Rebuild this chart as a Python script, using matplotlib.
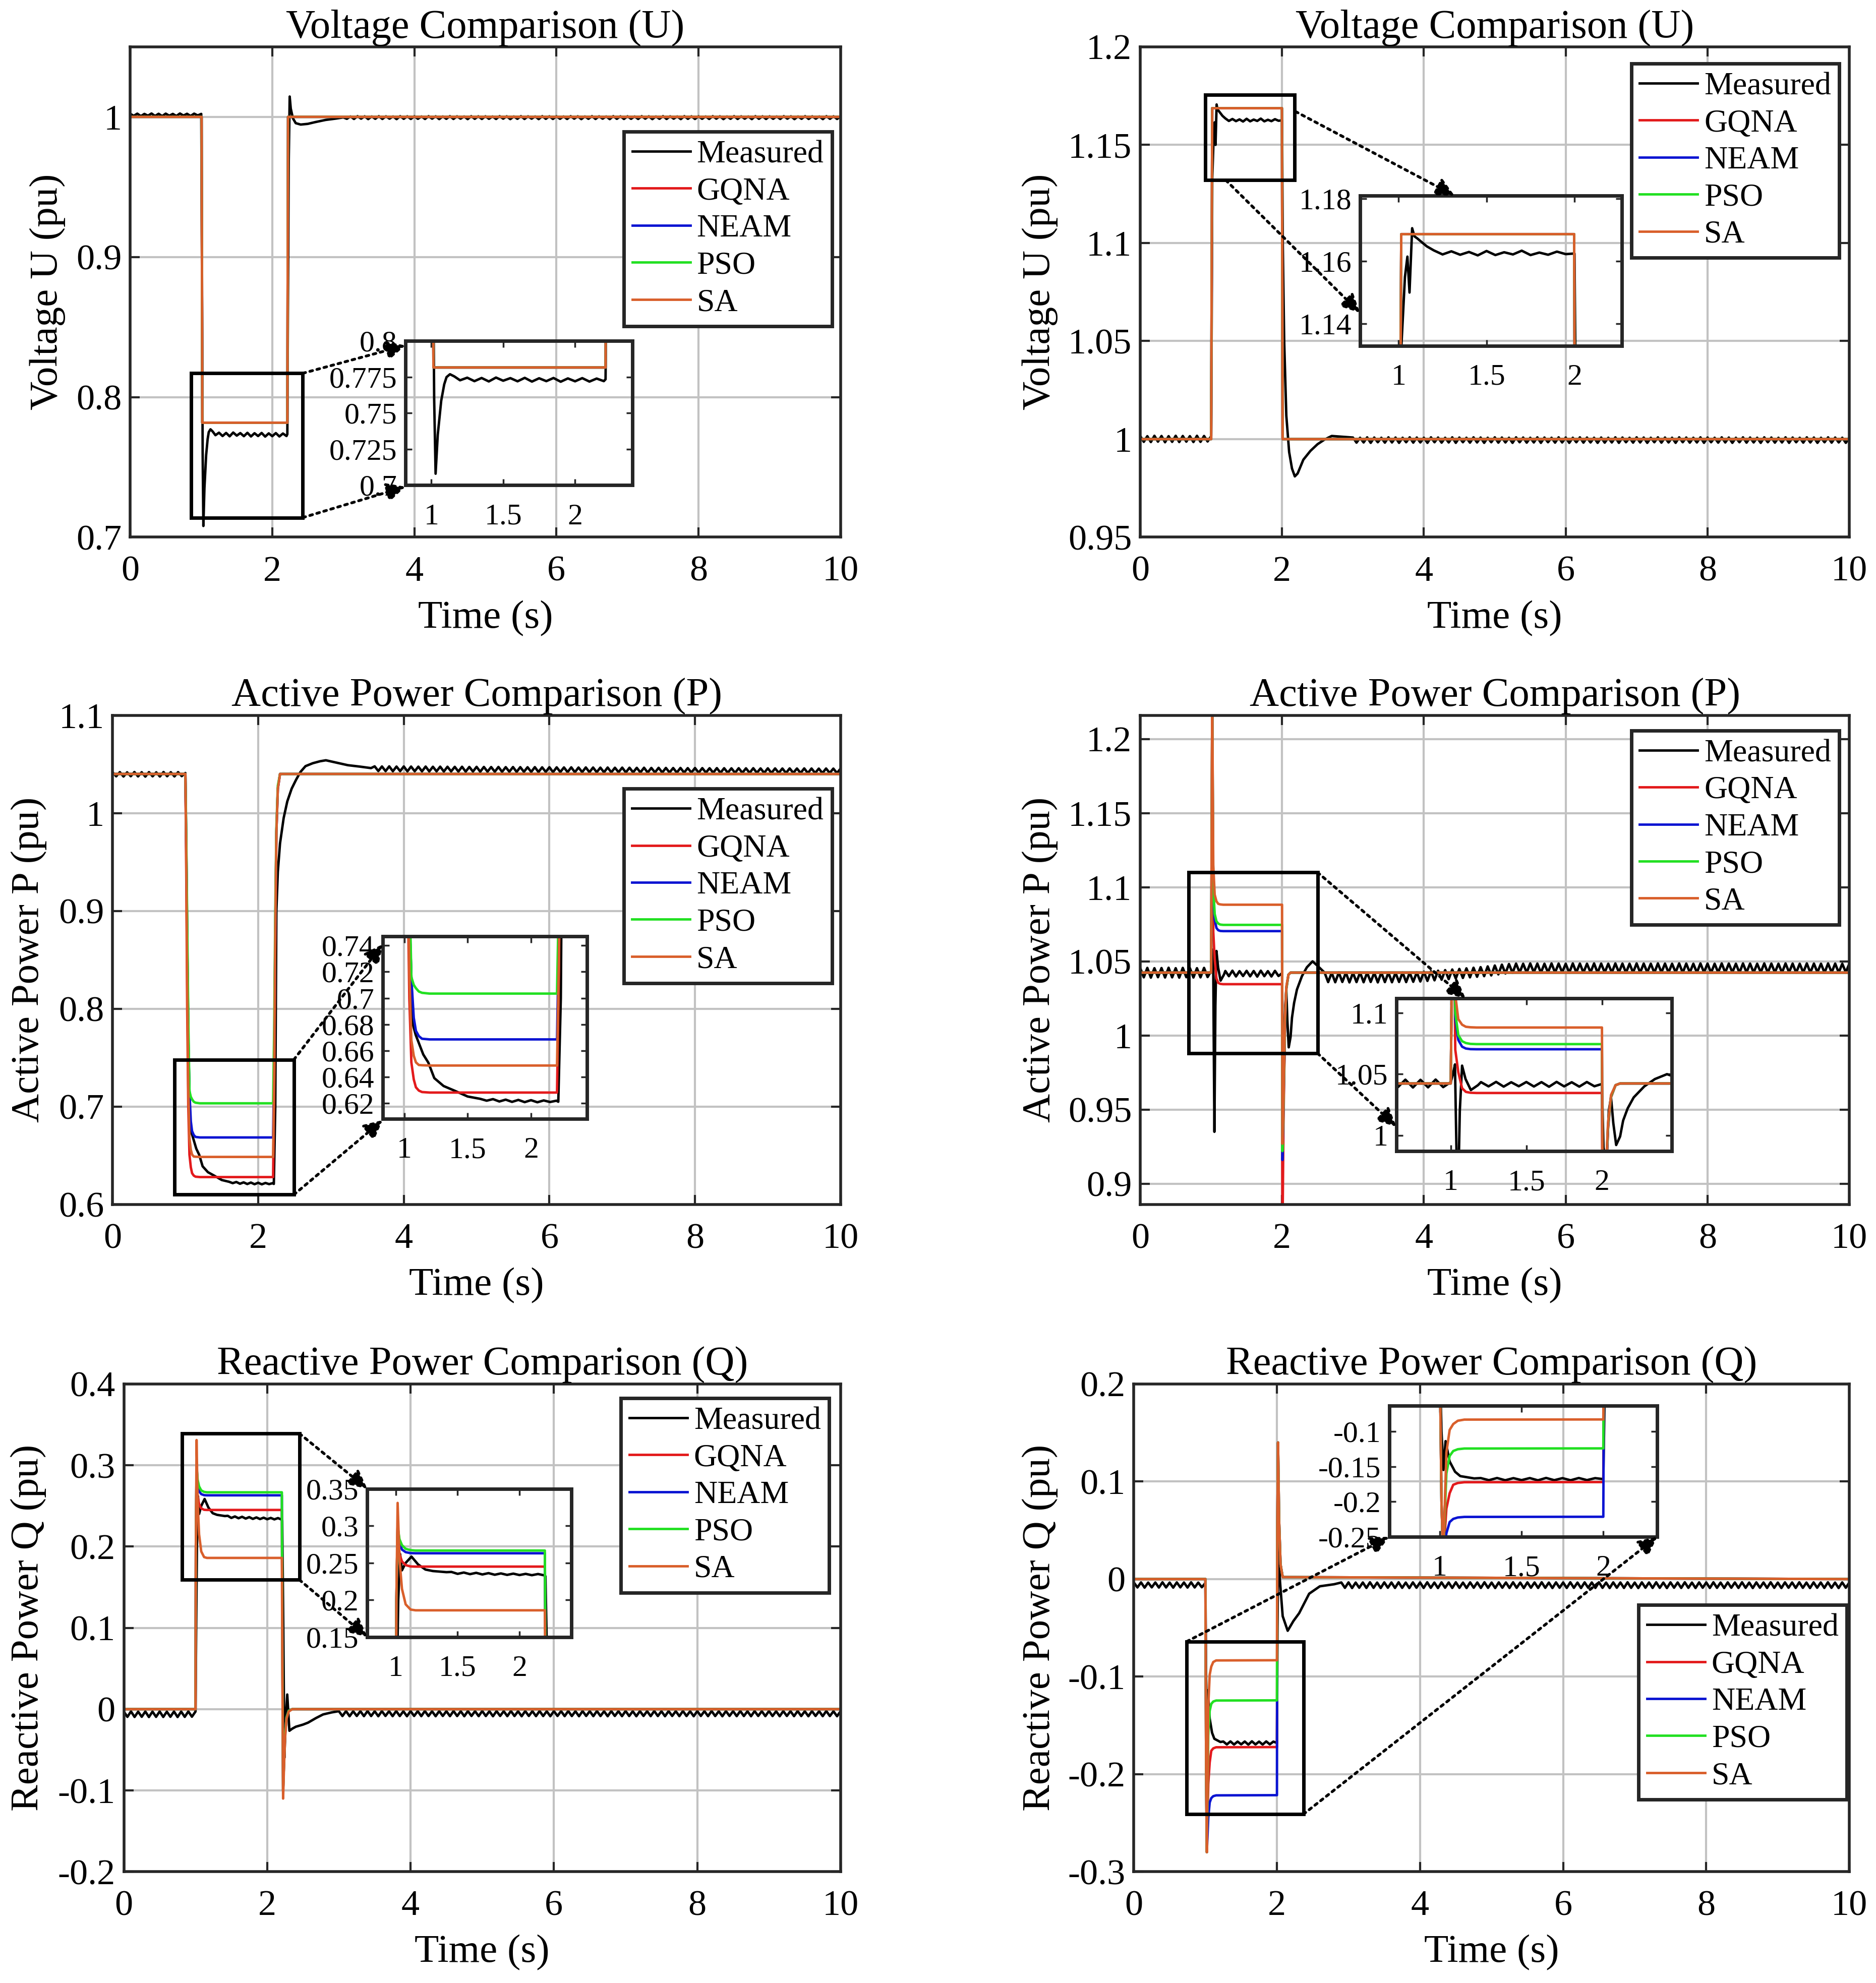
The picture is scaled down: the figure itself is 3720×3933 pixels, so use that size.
import numpy as np
import matplotlib
matplotlib.use('Agg')
import matplotlib.pyplot as plt
from matplotlib.patches import Rectangle, ConnectionPatch
from matplotlib.ticker import FuncFormatter

plt.rcParams['font.family'] = ['Liberation Serif', 'DejaVu Serif']
plt.rcParams['axes.unicode_minus'] = False

names = ['Measured', 'GQNA', 'NEAM', 'PSO', 'SA']
colors = ['#000000', '#e31a1c', '#0a14d2', '#22e022', '#d95f2b']

# ---------------- U, left case (sag) ----------------
u1_pre = [1.0022, 1.0007, 1.0023, 1.0005, 1.0021, 1.0008, 1.0024, 1.0006, 1.0022, 1.0005,
          1.0023, 1.0008, 1.0021, 1.0006, 1.0024, 1.0009, 1.0022, 1.0006, 1.0023, 1.0010]
u1_tr1_t = [1.0, 1.01, 1.02, 1.03, 1.045, 1.069, 1.09, 1.106, 1.13, 1.16, 1.2]
u1_tr1_v = [1.0021, 0.90, 0.76, 0.708, 0.735, 0.7586, 0.770, 0.775, 0.777, 0.7755, 0.7728]
u1_mid = [0.7746, 0.7722, 0.7744, 0.7720, 0.7747, 0.7725, 0.7743, 0.7721, 0.7745, 0.7719,
          0.7742, 0.7722, 0.7744, 0.7718, 0.7741, 0.7721, 0.7743, 0.7719, 0.7740, 0.7722]
u1_tr2_t = [2.212, 2.22, 2.232, 2.245, 2.26, 2.29, 2.33, 2.4, 2.5, 2.6, 2.75, 2.9]
u1_tr2_v = [0.7735, 0.86, 0.97, 1.0145, 1.006, 0.999, 0.9955, 0.9945, 0.9950, 0.9962, 0.9978, 0.9988]
u1_post = [0.9996, 0.9986, 1.0003, 0.9985, 1.0005, 0.9987, 1.0004, 0.9984, 1.0003, 0.9986,
           1.0005, 0.9985, 1.0004, 0.9987, 1.0003, 0.9984, 1.0005, 0.9986, 1.0004, 0.9985,
           1.0004, 0.9986, 1.0003, 0.9985, 1.0005, 0.9987, 1.0004, 0.9984, 1.0003, 0.9986,
           1.0005, 0.9985, 1.0004, 0.9987, 1.0003, 0.9984, 1.0005, 0.9986, 1.0004, 0.9985,
           1.0004, 0.9986, 1.0003, 0.9985, 1.0005, 0.9987, 1.0004, 0.9984, 1.0003, 0.9986,
           1.0005, 0.9985, 1.0004, 0.9987, 1.0003, 0.9984, 1.0005, 0.9986, 1.0004, 0.9985,
           1.0004, 0.9986, 1.0003, 0.9985, 1.0005, 0.9987, 1.0004, 0.9984, 1.0003, 0.9986,
           1.0005, 0.9985, 1.0004, 0.9987, 1.0003, 0.9984, 1.0005, 0.9986, 1.0004, 0.9985,
           1.0004, 0.9986, 1.0003, 0.9985, 1.0005, 0.9987, 1.0004, 0.9984, 1.0003, 0.9986,
           1.0005, 0.9985, 1.0004, 0.9987, 1.0003, 0.9984, 1.0005, 0.9986, 1.0004, 0.9985,
           1.0004, 0.9986, 1.0003, 0.9985, 1.0005, 0.9987, 1.0004, 0.9984, 1.0003, 0.9986,
           1.0005, 0.9985, 1.0004, 0.9987, 1.0003, 0.9984, 1.0005, 0.9986, 1.0004, 0.9985,
           1.0004, 0.9986, 1.0003, 0.9985, 1.0005, 0.9987, 1.0004, 0.9984, 1.0003, 0.9986,
           1.0005, 0.9985, 1.0004, 0.9987, 1.0003, 0.9984, 1.0005, 0.9986, 1.0004, 0.9985, 1.0004]
u1_model_t = [0, 1.005, 1.015, 2.212, 2.222, 10]
u1_model_v = [1.0, 1.0, 0.7817, 0.7817, 1.0, 1.0]

# ---------------- U, right case (swell) ----------------
u2_pre = [1.0016, 0.9986, 1.0015, 0.9985, 1.0017, 0.9987, 1.0016, 0.9984, 1.0015, 0.9986,
          1.0017, 0.9985, 1.0016, 0.9987, 1.0015, 0.9985, 1.0017, 0.9986, 1.0016, 0.9988]
u2_tr1_t = [1.0, 1.008, 1.016, 1.036, 1.05, 1.062, 1.077, 1.09, 1.107, 1.13, 1.16, 1.2]
u2_tr1_v = [1.0015, 1.06, 1.133, 1.155, 1.1615, 1.150, 1.1706, 1.168, 1.1673, 1.1662, 1.1648, 1.1635]
u2_mid = [1.1622, 1.1632, 1.1621, 1.1630, 1.1619, 1.1633, 1.1620, 1.1629, 1.1622, 1.1634,
          1.1620, 1.1628, 1.1621, 1.1631, 1.1623]
u2_tr2_t = [2.0, 2.01, 2.03, 2.06, 2.1, 2.14, 2.18, 2.22, 2.3, 2.4, 2.5, 2.6, 2.7, 2.85]
u2_tr2_v = [1.1625, 1.10, 1.05, 1.012, 0.9934, 0.985, 0.981, 0.9825, 0.9895, 0.994, 0.9974, 0.9998, 1.0016, 1.0012]
u2_post = [1.0008, 0.9982, 1.0007, 0.9983, 1.0009, 0.9981, 1.0008, 0.9984, 1.0007, 0.9982,
           1.0009, 0.9983, 1.0008, 0.9981, 1.0007, 0.9984, 1.0009, 0.9982, 1.0008, 0.9983,
           1.0007, 0.9981, 1.0009, 0.9984, 1.0008, 0.9982, 1.0007, 0.9983, 1.0009, 0.9981,
           1.0008, 0.9984, 1.0007, 0.9982, 1.0009, 0.9983, 1.0008, 0.9981, 1.0007, 0.9984,
           1.0009, 0.9982, 1.0008, 0.9983, 1.0007, 0.9981, 1.0009, 0.9984, 1.0008, 0.9982,
           1.0007, 0.9983, 1.0009, 0.9981, 1.0008, 0.9984, 1.0007, 0.9982, 1.0009, 0.9983,
           1.0008, 0.9981, 1.0007, 0.9984, 1.0009, 0.9982, 1.0008, 0.9983, 1.0007, 0.9981,
           1.0008, 0.9982, 1.0007, 0.9983, 1.0009, 0.9981, 1.0008, 0.9984, 1.0007, 0.9982,
           1.0009, 0.9983, 1.0008, 0.9981, 1.0007, 0.9984, 1.0009, 0.9982, 1.0008, 0.9983,
           1.0007, 0.9981, 1.0009, 0.9984, 1.0008, 0.9982, 1.0007, 0.9983, 1.0009, 0.9981,
           1.0008, 0.9984, 1.0007, 0.9982, 1.0009, 0.9983, 1.0008, 0.9981, 1.0007, 0.9984,
           1.0009, 0.9982, 1.0008, 0.9983, 1.0007, 0.9981, 1.0009, 0.9984, 1.0008, 0.9982,
           1.0007, 0.9983, 1.0009, 0.9981, 1.0008, 0.9984, 1.0007, 0.9982, 1.0009, 0.9983,
           1.0008, 0.9981, 1.0007, 0.9984, 1.0009, 0.9982, 1.0008, 0.9983, 1.0007, 0.9981, 1.0008]
u2_model_t = [0, 1.0, 1.015, 1.998, 2.008, 10]
u2_model_v = [1.0, 1.0, 1.1687, 1.1687, 1.0, 1.0]

# ---------------- P, left case ----------------
p1_pre = [1.0418, 1.0376, 1.0419, 1.0374, 1.0417, 1.0377, 1.0420, 1.0375, 1.0418, 1.0373,
          1.0419, 1.0376, 1.0417, 1.0374, 1.0420, 1.0377, 1.0418, 1.0375, 1.0419, 1.0378]
p1_tr1_t = [1.0, 1.015, 1.03, 1.045, 1.068, 1.09, 1.116, 1.15, 1.19, 1.237, 1.31, 1.395, 1.5, 1.6]
p1_tr1_v = [1.041, 0.95, 0.84, 0.75, 0.68, 0.672, 0.6655, 0.657, 0.6508, 0.639, 0.633, 0.6295, 0.625, 0.6232]
p1_mid = [0.6218, 0.6230, 0.6212, 0.6226, 0.6209, 0.6224, 0.6207, 0.6222, 0.6206, 0.6220, 0.6208, 0.6218]
p1_tr2_t = [2.215, 2.235, 2.25, 2.27, 2.3, 2.35, 2.4, 2.46, 2.52, 2.58, 2.65, 2.75, 2.85, 2.93, 3.05, 3.23, 3.4, 3.55]
p1_tr2_v = [0.621, 0.70, 0.90, 0.94, 0.969, 0.995, 1.012, 1.025, 1.034, 1.042, 1.048, 1.051, 1.053, 1.054, 1.052, 1.049, 1.0475, 1.046]
p1_post = [1.0478, 1.0430, 1.0477, 1.0429, 1.0478, 1.0428, 1.0476, 1.0429, 1.0477, 1.0427,
           1.0476, 1.0428, 1.0475, 1.0427, 1.0476, 1.0426, 1.0474, 1.0427, 1.0475, 1.0425,
           1.0474, 1.0426, 1.0473, 1.0425, 1.0474, 1.0424, 1.0472, 1.0425, 1.0473, 1.0423,
           1.0472, 1.0424, 1.0471, 1.0423, 1.0472, 1.0422, 1.0470, 1.0423, 1.0471, 1.0421,
           1.0470, 1.0422, 1.0469, 1.0421, 1.0470, 1.0420, 1.0468, 1.0421, 1.0469, 1.0419,
           1.0468, 1.0420, 1.0467, 1.0419, 1.0468, 1.0418, 1.0466, 1.0419, 1.0467, 1.0418,
           1.0466, 1.0418, 1.0465, 1.0417, 1.0466, 1.0417, 1.0464, 1.0418, 1.0465, 1.0416,
           1.0464, 1.0417, 1.0463, 1.0416, 1.0464, 1.0415, 1.0462, 1.0416, 1.0463, 1.0415,
           1.0462, 1.0415, 1.0461, 1.0414, 1.0462, 1.0414, 1.0460, 1.0415, 1.0461, 1.0413,
           1.0460, 1.0414, 1.0459, 1.0413, 1.0460, 1.0412, 1.0459, 1.0413, 1.0458, 1.0412,
           1.0459, 1.0412, 1.0458, 1.0411, 1.0459, 1.0412, 1.0457, 1.0411, 1.0458, 1.0410,
           1.0457, 1.0411, 1.0456, 1.0410, 1.0457, 1.0411, 1.0456, 1.0410, 1.0457, 1.0409,
           1.0456, 1.0410, 1.0455, 1.0409, 1.0456, 1.0410, 1.0455, 1.0409, 1.0456]
p1_model_t = [0, 1.0, 1.01, 1.025, 1.04, 1.056, 1.075, 1.092, 1.115, 1.14, 1.2,
              2.205, 2.22, 2.235, 2.25, 2.27, 2.3, 10]
p1_gqna = [1.04, 1.04, 0.96, 0.80, 0.70, 0.651, 0.638, 0.632, 0.6295, 0.6284, 0.628,
           0.628, 0.72, 0.87, 0.98, 1.025, 1.04, 1.04]
p1_neam = [1.04, 1.04, 0.98, 0.87, 0.77, 0.715, 0.685, 0.675, 0.671, 0.669, 0.6685,
           0.6685, 0.75, 0.88, 0.98, 1.025, 1.04, 1.04]
p1_pso = [1.04, 1.04, 0.99, 0.89, 0.79, 0.716, 0.710, 0.7075, 0.705, 0.704, 0.7034,
          0.7034, 0.78, 0.90, 0.985, 1.028, 1.04, 1.04]
p1_sa = [1.04, 1.04, 0.97, 0.83, 0.72, 0.668, 0.656, 0.651, 0.649, 0.6488, 0.6486,
         0.6486, 0.73, 0.88, 0.98, 1.025, 1.04, 1.04]

# ---------------- P, right case ----------------
p2_pre = [1.0455, 1.0392, 1.0456, 1.0390, 1.0454, 1.0393, 1.0455, 1.0391, 1.0457, 1.0392,
          1.0454, 1.0390, 1.0456, 1.0393, 1.0455, 1.0391, 1.0454, 1.0392, 1.0456, 1.0394]
p2_tr1_t = [1.0, 1.015, 1.028, 1.036, 1.046, 1.06, 1.075, 1.098, 1.133, 1.18]
p2_tr1_v = [1.0435, 1.05, 1.058, 1.0, 0.935, 1.02, 1.057, 1.046, 1.037, 1.041]
p2_mid = [1.0435, 1.0400, 1.0437, 1.0398, 1.0434, 1.0401, 1.0436, 1.0399, 1.0435, 1.0397,
          1.0437, 1.0400, 1.0434, 1.0398, 1.0436, 1.0401]
p2_tr2_t = [2.0, 2.01, 2.03, 2.045, 2.06, 2.075, 2.094, 2.12, 2.14, 2.17, 2.21, 2.28, 2.35, 2.43, 2.5]
p2_tr2_v = [1.042, 0.99, 0.975, 1.02, 1.031, 1.01, 0.992, 0.999, 1.012, 1.022, 1.031, 1.040, 1.046, 1.050, 1.047]
p2_post = [1.0424, 1.0360, 1.0423, 1.0359, 1.0425, 1.0361, 1.0424, 1.0358, 1.0423, 1.0360,
           1.0425, 1.0359, 1.0424, 1.0361, 1.0423, 1.0358, 1.0425, 1.0360, 1.0424, 1.0359,
           1.0423, 1.0361, 1.0425, 1.0360, 1.0424, 1.0362, 1.0426, 1.0364, 1.0430, 1.0368,
           1.0433, 1.0372, 1.0437, 1.0376, 1.0441, 1.0380, 1.0445, 1.0384, 1.0449, 1.0388,
           1.0453, 1.0392, 1.0457, 1.0396, 1.0461, 1.0400, 1.0466, 1.0405, 1.0472, 1.0412,
           1.0478, 1.0418, 1.0482, 1.0422, 1.0485, 1.0425, 1.0484, 1.0424, 1.0486, 1.0426,
           1.0485, 1.0423, 1.0484, 1.0425, 1.0486, 1.0424, 1.0485, 1.0426, 1.0484, 1.0423,
           1.0486, 1.0425, 1.0485, 1.0424, 1.0484, 1.0426, 1.0486, 1.0423, 1.0485, 1.0425,
           1.0484, 1.0424, 1.0486, 1.0426, 1.0485, 1.0423, 1.0484, 1.0425, 1.0486, 1.0424,
           1.0485, 1.0426, 1.0484, 1.0423, 1.0486, 1.0425, 1.0485, 1.0424, 1.0484, 1.0426,
           1.0486, 1.0423, 1.0485, 1.0425, 1.0484, 1.0424, 1.0486, 1.0426, 1.0485, 1.0423,
           1.0484, 1.0425, 1.0486, 1.0424, 1.0485, 1.0426, 1.0484, 1.0423, 1.0486, 1.0425,
           1.0485, 1.0424, 1.0484, 1.0426, 1.0486, 1.0423, 1.0485, 1.0425, 1.0484, 1.0424,
           1.0486, 1.0426, 1.0485, 1.0423, 1.0484, 1.0425, 1.0486, 1.0424, 1.0485, 1.0426,
           1.0484, 1.0423, 1.0486, 1.0425, 1.0485, 1.0424, 1.0484, 1.0426, 1.0485]
p2_model_t = [0, 1.0, 1.015, 1.03, 1.05, 1.075, 1.1, 1.13, 1.17, 2.0, 2.005, 2.02, 2.04, 2.06, 2.09, 2.12, 10]
p2_gqna = [1.0424, 1.0424, 1.23, 1.07, 1.0516, 1.0385, 1.0355, 1.0348, 1.0346, 1.0346,
           0.86, 0.94, 1.005, 1.031, 1.041, 1.0424, 1.0424]
p2_neam = [1.0424, 1.0424, 1.23, 1.095, 1.078, 1.0725, 1.071, 1.0705, 1.0704, 1.0704,
           0.916, 0.95, 1.007, 1.032, 1.041, 1.0424, 1.0424]
p2_pso = [1.0424, 1.0424, 1.23, 1.10, 1.082, 1.077, 1.0755, 1.0748, 1.0746, 1.0746,
          0.922, 0.952, 1.008, 1.032, 1.041, 1.0424, 1.0424]
p2_sa = [1.0424, 1.0424, 1.23, 1.115, 1.095, 1.0905, 1.0888, 1.0884, 1.0882, 1.0882,
         0.927, 0.955, 1.01, 1.033, 1.041, 1.0424, 1.0424]

# ---------------- Q, left case ----------------
q1_pre = [-0.0030, -0.0095, -0.0028, -0.0096, -0.0031, -0.0094, -0.0029, -0.0097, -0.0030, -0.0095,
          -0.0028, -0.0096, -0.0031, -0.0094, -0.0029, -0.0097, -0.0030, -0.0095, -0.0028, -0.0093]
q1_tr1_t = [1.0, 1.01, 1.02, 1.035, 1.05, 1.08, 1.127, 1.18, 1.24, 1.3, 1.41]
q1_tr1_v = [-0.003, 0.10, 0.20, 0.262, 0.24, 0.25, 0.2585, 0.248, 0.241, 0.239, 0.2375]
q1_mid = [0.2378, 0.2352, 0.2370, 0.2348, 0.2366, 0.2344, 0.2362, 0.2340, 0.2358, 0.2338,
          0.2355, 0.2336, 0.2352, 0.2334, 0.2350, 0.2332]
q1_tr2_t = [2.21, 2.225, 2.24, 2.26, 2.28, 2.31, 2.35, 2.4, 2.5, 2.57, 2.68, 2.78, 2.9]
q1_tr2_v = [0.232, 0.10, -0.06, -0.01, 0.018, -0.0266, -0.024, -0.0216, -0.019, -0.0166, -0.011, -0.0065, -0.004]
q1_post = [-0.0025, -0.0085, -0.0024, -0.0087, -0.0026, -0.0084, -0.0025, -0.0086, -0.0023, -0.0085,
           -0.0026, -0.0087, -0.0024, -0.0084, -0.0025, -0.0086, -0.0023, -0.0085, -0.0026, -0.0087,
           -0.0024, -0.0084, -0.0025, -0.0086, -0.0023, -0.0085, -0.0026, -0.0087, -0.0024, -0.0084,
           -0.0025, -0.0086, -0.0023, -0.0085, -0.0026, -0.0087, -0.0024, -0.0084, -0.0025, -0.0086,
           -0.0023, -0.0085, -0.0026, -0.0087, -0.0024, -0.0084, -0.0025, -0.0086, -0.0023, -0.0085,
           -0.0026, -0.0087, -0.0024, -0.0084, -0.0025, -0.0086, -0.0023, -0.0085, -0.0026, -0.0087,
           -0.0024, -0.0084, -0.0025, -0.0086, -0.0023, -0.0085, -0.0026, -0.0087, -0.0024, -0.0084,
           -0.0025, -0.0086, -0.0023, -0.0085, -0.0026, -0.0087, -0.0024, -0.0084, -0.0025, -0.0086,
           -0.0023, -0.0085, -0.0026, -0.0087, -0.0024, -0.0084, -0.0025, -0.0086, -0.0023, -0.0085,
           -0.0026, -0.0087, -0.0024, -0.0084, -0.0025, -0.0086, -0.0023, -0.0085, -0.0026, -0.0087,
           -0.0024, -0.0084, -0.0025, -0.0086, -0.0023, -0.0085, -0.0026, -0.0087, -0.0024, -0.0084,
           -0.0025, -0.0086, -0.0023, -0.0085, -0.0026, -0.0087, -0.0024, -0.0084, -0.0025, -0.0086,
           -0.0023, -0.0085, -0.0026, -0.0087, -0.0024, -0.0084, -0.0025, -0.0086, -0.0023, -0.0085,
           -0.0026, -0.0087, -0.0024, -0.0084, -0.0025, -0.0086, -0.0023, -0.0085, -0.0026, -0.0087, -0.0025]
q1_model_t = [0, 1.0, 1.005, 1.015, 1.03, 1.05, 1.08, 1.12, 1.16, 2.205, 2.212, 2.222, 2.235, 2.25, 2.27, 2.3, 2.35, 10]
q1_gqna = [0, 0, 0.20, 0.30, 0.262, 0.252, 0.247, 0.2452, 0.245, 0.245, 0.08, -0.10, -0.065, -0.03, -0.01, -0.002, 0, 0]
q1_neam = [0, 0, 0.20, 0.30, 0.278, 0.268, 0.2645, 0.2632, 0.263, 0.263, 0.08, -0.10, -0.065, -0.03, -0.01, -0.002, 0, 0]
q1_pso = [0, 0, 0.20, 0.30, 0.282, 0.274, 0.269, 0.2672, 0.2667, 0.2667, 0.08, -0.10, -0.065, -0.03, -0.01, -0.002, 0, 0]
q1_sa = [0, 0, 0.20, 0.331, 0.255, 0.215, 0.194, 0.187, 0.186, 0.186, 0.05, -0.11, -0.07, -0.035, -0.012, -0.003, 0, 0]

# ---------------- Q, right case ----------------
q2_pre = [-0.0035, -0.0086, -0.0034, -0.0088, -0.0036, -0.0085, -0.0035, -0.0087, -0.0033, -0.0086,
          -0.0036, -0.0088, -0.0034, -0.0085, -0.0035, -0.0087, -0.0033, -0.0086, -0.0036, -0.0084]
q2_tr1_t = [1.0, 1.01, 1.022, 1.035, 1.06, 1.093, 1.125, 1.21]
q2_tr1_v = [-0.004, -0.10, -0.155, -0.114, -0.143, -0.1575, -0.1637, -0.167]
q2_mid = [-0.1665, -0.1695, -0.1664, -0.1696, -0.1666, -0.1694, -0.1665, -0.1697, -0.1663, -0.1695,
          -0.1666, -0.1696, -0.1664, -0.1694, -0.1666]
q2_tr2_t = [2.0, 2.008, 2.02, 2.04, 2.08, 2.15, 2.23, 2.31, 2.45, 2.6, 2.8]
q2_tr2_v = [-0.168, -0.05, 0.05, 0.0, -0.038, -0.053, -0.043, -0.035, -0.015, -0.0074, -0.0053]
q2_post = [-0.0035, -0.0090, -0.0034, -0.0092, -0.0036, -0.0089, -0.0035, -0.0091, -0.0033, -0.0090,
           -0.0036, -0.0092, -0.0034, -0.0089, -0.0035, -0.0091, -0.0033, -0.0090, -0.0036, -0.0092,
           -0.0034, -0.0089, -0.0035, -0.0091, -0.0033, -0.0090, -0.0036, -0.0092, -0.0034, -0.0089,
           -0.0035, -0.0091, -0.0033, -0.0090, -0.0036, -0.0092, -0.0034, -0.0089, -0.0035, -0.0091,
           -0.0033, -0.0090, -0.0036, -0.0092, -0.0034, -0.0089, -0.0035, -0.0091, -0.0033, -0.0090,
           -0.0036, -0.0092, -0.0034, -0.0089, -0.0035, -0.0091, -0.0033, -0.0090, -0.0036, -0.0092,
           -0.0034, -0.0089, -0.0035, -0.0091, -0.0033, -0.0090, -0.0036, -0.0092, -0.0034, -0.0089,
           -0.0035, -0.0091, -0.0033, -0.0090, -0.0036, -0.0092, -0.0034, -0.0089, -0.0035, -0.0091,
           -0.0033, -0.0090, -0.0036, -0.0092, -0.0034, -0.0089, -0.0035, -0.0091, -0.0033, -0.0090,
           -0.0036, -0.0092, -0.0034, -0.0089, -0.0035, -0.0091, -0.0033, -0.0090, -0.0036, -0.0092,
           -0.0034, -0.0089, -0.0035, -0.0091, -0.0033, -0.0090, -0.0036, -0.0092, -0.0034, -0.0089,
           -0.0035, -0.0091, -0.0033, -0.0090, -0.0036, -0.0092, -0.0034, -0.0089, -0.0035, -0.0091,
           -0.0033, -0.0090, -0.0036, -0.0092, -0.0034, -0.0089, -0.0035, -0.0091, -0.0033, -0.0090,
           -0.0036, -0.0092, -0.0034, -0.0089, -0.0035, -0.0091, -0.0033, -0.0090, -0.0036, -0.0092,
           -0.0034, -0.0089, -0.0035]
q2_model_t = [0, 1.0, 1.01, 1.02, 1.04, 1.06, 1.082, 1.11, 1.15, 2.0, 2.005, 2.015, 2.03, 2.05, 2.08, 10]
q2_gqna = [0, 0, -0.20, -0.28, -0.21, -0.188, -0.176, -0.1735, -0.1724, -0.1722, 0.05, 0.14, 0.06, 0.015, 0.002, 0]
q2_neam = [0, 0, -0.20, -0.28, -0.245, -0.229, -0.2245, -0.2225, -0.2217, -0.2215, 0.05, 0.14, 0.06, 0.015, 0.002, 0]
q2_pso = [0, 0, -0.20, -0.28, -0.16, -0.135, -0.128, -0.1255, -0.1245, -0.1243, 0.05, 0.14, 0.06, 0.015, 0.002, 0]
q2_sa = [0, 0, -0.20, -0.28, -0.13, -0.098, -0.0897, -0.085, -0.0834, -0.0832, 0.05, 0.14, 0.06, 0.015, 0.002, 0]


def measured(pre, tr1_t, tr1_v, mid, mid_span, tr2_t, tr2_v, post, post_span):
    # uniform-sampled stretches glued to the hand-read transients
    t = np.concatenate([np.linspace(0, 0.95, len(pre)), tr1_t,
                        np.linspace(mid_span[0], mid_span[1], len(mid)), tr2_t,
                        np.linspace(post_span[0], post_span[1], len(post))])
    v = np.concatenate([pre, tr1_v, mid, tr2_v, post])
    return t, v


series = {
    'u1': (measured(u1_pre, u1_tr1_t, u1_tr1_v, u1_mid, (1.25, 2.2), u1_tr2_t, u1_tr2_v, u1_post, (3.0, 10)),
           [(u1_model_t, u1_model_v)] * 4),
    'u2': (measured(u2_pre, u2_tr1_t, u2_tr1_v, u2_mid, (1.25, 1.95), u2_tr2_t, u2_tr2_v, u2_post, (3.0, 10)),
           [(u2_model_t, u2_model_v)] * 4),
    'p1': (measured(p1_pre, p1_tr1_t, p1_tr1_v, p1_mid, (1.65, 2.2), p1_tr2_t, p1_tr2_v, p1_post, (3.6, 10)),
           [(p1_model_t, p1_gqna), (p1_model_t, p1_neam), (p1_model_t, p1_pso), (p1_model_t, p1_sa)]),
    'p2': (measured(p2_pre, p2_tr1_t, p2_tr1_v, p2_mid, (1.2, 1.95), p2_tr2_t, p2_tr2_v, p2_post, (2.6, 10)),
           [(p2_model_t, p2_gqna), (p2_model_t, p2_neam), (p2_model_t, p2_pso), (p2_model_t, p2_sa)]),
    'q1': (measured(q1_pre, q1_tr1_t, q1_tr1_v, q1_mid, (1.45, 2.2), q1_tr2_t, q1_tr2_v, q1_post, (3.0, 10)),
           [(q1_model_t, q1_gqna), (q1_model_t, q1_neam), (q1_model_t, q1_pso), (q1_model_t, q1_sa)]),
    'q2': (measured(q2_pre, q2_tr1_t, q2_tr1_v, q2_mid, (1.25, 1.95), q2_tr2_t, q2_tr2_v, q2_post, (2.9, 10)),
           [(q2_model_t, q2_gqna), (q2_model_t, q2_neam), (q2_model_t, q2_pso), (q2_model_t, q2_sa)]),
}

# layout: axes / inset boxes in figure fractions, zoom boxes and arrows in data units
panels = [
    dict(key='u1', pos=[0.0694, 0.7291, 0.3787, 0.2473], title='Voltage Comparison (U)',
         ylabel='Voltage U (pu)', ylim=(0.7, 1.05), yticks=[0.7, 0.8, 0.9, 1.0], ylab_x=-0.091,
         leg=(0.988, 0.827), ins=[0.2161, 0.7553, 0.1211, 0.0727], in_xlim=(0.82, 2.4),
         in_ylim=(0.7, 0.8), in_yticks=[0.7, 0.725, 0.75, 0.775, 0.8],
         rect=(0.86, 0.714, 1.57, 0.103),
         arrows=[((2.43, 0.817), (0.82, 0.797)), ((2.43, 0.714), (0.82, 0.699))]),
    dict(key='u2', pos=[0.6078, 0.7291, 0.378, 0.2473], title='Voltage Comparison (U)',
         ylabel='Voltage U (pu)', ylim=(0.95, 1.2), yticks=[0.95, 1.0, 1.05, 1.1, 1.15, 1.2], ylab_x=-0.116,
         leg=(0.986, 0.966), ins=[0.7249, 0.8257, 0.1397, 0.0756], in_xlim=(0.78, 2.27),
         in_ylim=(1.133, 1.181), in_yticks=[1.14, 1.16, 1.18],
         rect=(0.92, 1.132, 1.255, 0.0435),
         arrows=[((2.19, 1.167), (1.318, 1.181)), ((1.207, 1.132), (0.78, 1.1435))]),
    dict(key='p1', pos=[0.0600, 0.3926, 0.3881, 0.2467], title='Active Power Comparison (P)',
         ylabel='Active Power P (pu)', ylim=(0.6, 1.1), yticks=[0.6, 0.7, 0.8, 0.9, 1.0, 1.1], ylab_x=-0.090,
         leg=(0.988, 0.850), ins=[0.2040, 0.4358, 0.1088, 0.0920], in_xlim=(0.83, 2.44),
         in_ylim=(0.608, 0.747), in_yticks=[0.62, 0.64, 0.66, 0.68, 0.7, 0.72, 0.74],
         rect=(0.85, 0.61, 1.64, 0.138),
         arrows=[((2.49, 0.748), (0.83, 0.741)), ((2.49, 0.61), (0.83, 0.607))]),
    dict(key='p2', pos=[0.6078, 0.3926, 0.378, 0.2467], title='Active Power Comparison (P)',
         ylabel='Active Power P (pu)', ylim=(0.886, 1.216), yticks=[0.9, 0.95, 1.0, 1.05, 1.1, 1.15, 1.2],
         ylab_x=-0.116, leg=(0.986, 0.969), ins=[0.7443, 0.4195, 0.1467, 0.0770], in_xlim=(0.64, 2.46),
         in_ylim=(0.987, 1.112), in_yticks=[1.0, 1.05, 1.1],
         rect=(0.68, 0.988, 1.82, 0.122),
         arrows=[((2.5, 1.11), (1.098, 1.112)), ((2.5, 0.988), (0.64, 1.007))]),
    dict(key='q1', pos=[0.0660, 0.0561, 0.3821, 0.2460], title='Reactive Power Comparison (Q)',
         ylabel='Reactive Power Q (pu)', ylim=(-0.2, 0.4), yticks=[-0.2, -0.1, 0, 0.1, 0.2, 0.3, 0.4],
         ylab_x=-0.108, leg=(0.984, 0.971), ins=[0.1958, 0.1745, 0.1088, 0.0747], in_xlim=(0.77, 2.42),
         in_ylim=(0.15, 0.35), in_yticks=[0.15, 0.2, 0.25, 0.3, 0.35],
         rect=(0.81, 0.159, 1.64, 0.18),
         arrows=[((2.45, 0.339), (0.77, 0.35)), ((2.45, 0.159), (0.77, 0.15))]),
    dict(key='q2', pos=[0.6044, 0.0561, 0.3814, 0.2460], title='Reactive Power Comparison (Q)',
         ylabel='Reactive Power Q (pu)', ylim=(-0.3, 0.2), yticks=[-0.3, -0.2, -0.1, 0, 0.1, 0.2],
         ylab_x=-0.106, leg=(0.9965, 0.547), ins=[0.7405, 0.2250, 0.1429, 0.0660], in_xlim=(0.69, 2.33),
         in_ylim=(-0.25, -0.064), in_yticks=[-0.25, -0.2, -0.15, -0.1],
         rect=(0.74, -0.241, 1.63, 0.177),
         arrows=[((0.74, -0.064), (0.69, -0.25)), ((2.37, -0.241), (2.33, -0.25))]),
]

fmt = FuncFormatter(lambda v, p: '%g' % round(v, 4))
axis_col = '#262626'

fig = plt.figure(figsize=(37.2, 39.33), dpi=100)

for pn in panels:
    (mt, mv), models = series[pn['key']]
    ax = fig.add_axes(pn['pos'])
    ax.plot(mt, mv, color=colors[0], lw=3.5, label=names[0])
    for (t, v), nm, c in zip(models, names[1:], colors[1:]):
        ax.plot(t, v, color=c, lw=3.5, label=nm)
    ax.set_xlim(0, 10)
    ax.set_ylim(*pn['ylim'])
    ax.set_xticks([0, 2, 4, 6, 8, 10])
    ax.set_yticks(pn['yticks'])
    ax.xaxis.set_major_formatter(fmt)
    ax.yaxis.set_major_formatter(fmt)
    ax.grid(True, color='#c2c2c2', lw=3)
    ax.set_axisbelow(True)
    ax.tick_params(direction='in', length=14, width=3, top=True, right=True,
                   labelsize=52, colors=axis_col, labelcolor='black')
    ax.tick_params(axis='x', pad=26)
    ax.tick_params(axis='y', pad=12)
    for s in ax.spines.values():
        s.set_linewidth(4)
        s.set_color(axis_col)
    ax.set_title(pn['title'], fontsize=58, pad=13)
    ax.set_xlabel('Time (s)', fontsize=57)
    ax.set_ylabel(pn['ylabel'], fontsize=57)
    ax.xaxis.set_label_coords(0.5, -0.129)
    ax.yaxis.set_label_coords(pn['ylab_x'], 0.5)

    leg = ax.legend(loc='upper right', bbox_to_anchor=pn['leg'], fontsize=46, frameon=True,
                    fancybox=False, framealpha=1, edgecolor='#262626', handlelength=1.8,
                    handletextpad=0.2, borderpad=0.26, labelspacing=0.23, borderaxespad=0)
    leg.get_frame().set_linewidth(5)
    leg.set_zorder(20)

    # zoom box
    rx, ry, rw, rh = pn['rect']
    ax.add_patch(Rectangle((rx, ry), rw, rh, fill=False, ec='black', lw=5, zorder=15))

    # inset
    ins = fig.add_axes(pn['ins'])
    ins.set_facecolor('none')
    ins.plot(mt, mv, color=colors[0], lw=3.5)
    for (t, v), c in zip(models, colors[1:]):
        ins.plot(t, v, color=c, lw=3.5)
    ins.set_xlim(*pn['in_xlim'])
    ins.set_ylim(*pn['in_ylim'])
    ins.set_xticks([1, 1.5, 2])
    ins.set_yticks(pn['in_yticks'])
    ins.xaxis.set_major_formatter(fmt)
    ins.yaxis.set_major_formatter(fmt)
    ins.tick_params(direction='in', length=9, width=2.5, top=True, right=True,
                    labelsize=43, colors=axis_col, labelcolor='black')
    ins.tick_params(axis='x', pad=26)
    ins.tick_params(axis='y', pad=12)
    for s in ins.spines.values():
        s.set_linewidth(5)
        s.set_color(axis_col)

    for a, b in pn['arrows']:
        con = ConnectionPatch(xyA=a, coordsA='data', axesA=ax, xyB=b, coordsB='data', axesB=ins,
                              arrowstyle='-|>', mutation_scale=55, lw=4, linestyle=(0, (1, 1.6)),
                              color='black', shrinkA=0, shrinkB=0, zorder=30)
        con.set_annotation_clip(False)
        fig.add_artist(con)

fig.savefig('out.png', dpi=100)
